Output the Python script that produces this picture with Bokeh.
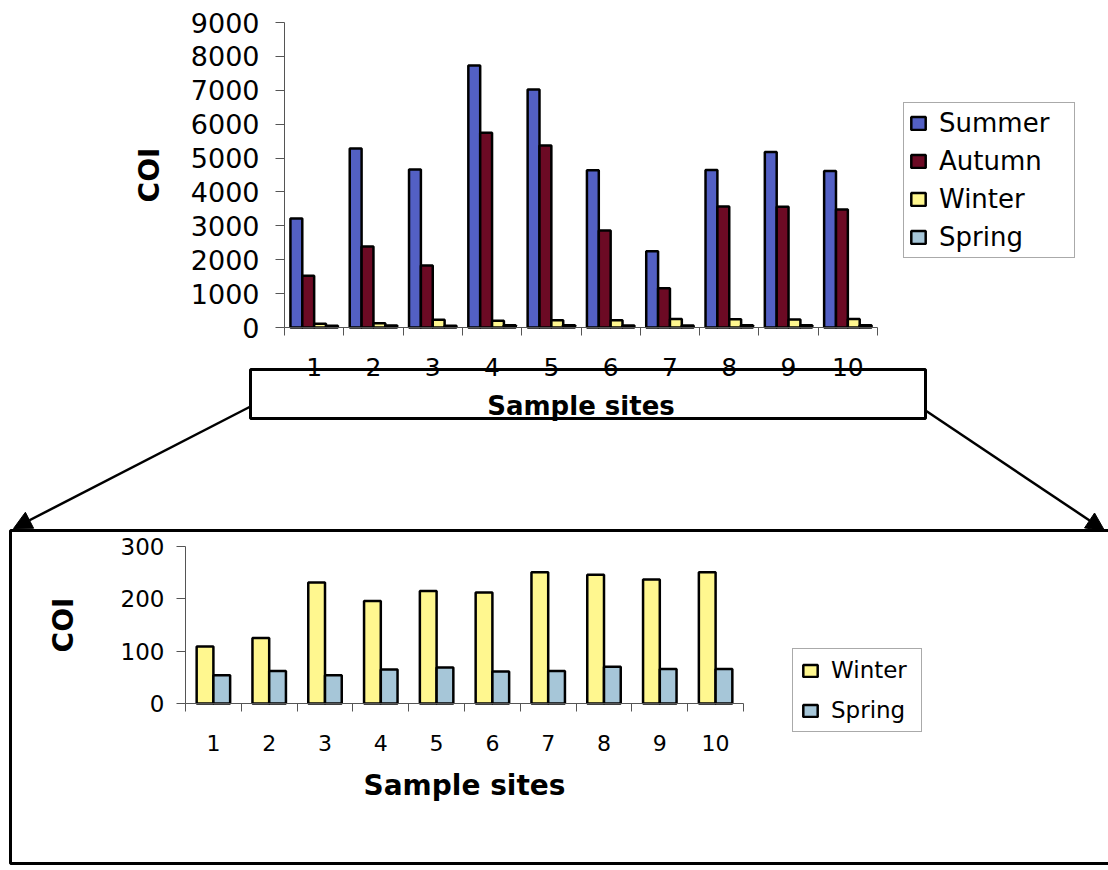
from bokeh.plotting import figure
from bokeh.models import (FixedTicker, BoxAnnotation, Arrow, NormalHead, Range1d, ColumnDataSource,
                          LinearAxis, Legend, LegendItem)
from bokeh.transform import dodge
from bokeh.embed import file_html
from bokeh.resources import INLINE

# ---------------- data ----------------
sites = [1, 2, 3, 4, 5, 6, 7, 8, 9, 10]
summer = [3220, 5280, 4660, 7730, 7020, 4640, 2250, 4650, 5180, 4620]
autumn = [1530, 2390, 1830, 5750, 5370, 2860, 1160, 3570, 3560, 3480]
winter = [109, 125, 231, 196, 215, 212, 251, 246, 237, 251]
spring = [54, 62, 54, 65, 69, 61, 62, 70, 66, 66]
top_yticks = [0, 1000, 2000, 3000, 4000, 5000, 6000, 7000, 8000, 9000]
bottom_yticks = [0, 100, 200, 300]
series_names = ["Summer", "Autumn", "Winter", "Spring"]
colors = {"Summer": "#5360c4", "Autumn": "#6c0a24", "Winter": "#fff78f", "Spring": "#a6c6d8"}

FONT = "DejaVu Sans"
W, H = 1108, 870
src = ColumnDataSource(dict(site=sites, Summer=summer, Autumn=autumn, Winter=winter, Spring=spring))


def x_range_for(v0, s0, v1, s1):
    """x range whose values v0 / v1 land on canvas pixels s0 / s1."""
    ppu = (s1 - s0) / (v1 - v0)
    return Range1d(v0 - s0 / ppu, v0 + (W - s0) / ppu)


def y_range_for(v0, s0, v1, s1):
    """y range whose values v0 / v1 land on canvas pixels s0 / s1 (pixels from the top)."""
    ppu = (s0 - s1) / (v1 - v0)
    return Range1d(v0 - (H - s0) / ppu, v0 + s0 / ppu)


# top chart: x 0.5 -> 284 px, 10.5 -> 877 px ; y 0 -> 327 px, 9000 -> 22 px
top_x = x_range_for(0.5, 284, 10.5, 877)
top_y = y_range_for(0, 327, 9000, 22)
# bottom chart: x 0.5 -> 185 px, 10.5 -> 743 px ; y 0 -> 703 px, 300 -> 546 px
bot_x = x_range_for(0.5, 185, 10.5, 743)
bot_y = y_range_for(0, 703, 300, 546)

p = figure(width=W, height=H, x_range=top_x, y_range=top_y, title=None,
           output_backend="svg", toolbar_location=None,
           x_axis_location=None, y_axis_location=None,
           min_border=0, min_border_left=0, min_border_right=0, min_border_top=0, min_border_bottom=0)
p.extra_x_ranges = {"bx": bot_x}
p.extra_y_ranges = {"by": bot_y}
p.xgrid.visible = False
p.ygrid.visible = False
p.outline_line_color = None
p.background_fill_color = "white"


def make_axes(xr, yr, xlab_size, xlab_standoff, xtitle_size, xtitle_standoff,
              ylab_size, ylab_standoff, ytitle_size, ytitle_standoff, yticks):
    xa = LinearAxis(x_range_name=xr, y_range_name=yr, fixed_location=0,
                    bounds=(sites[0] - 0.5, sites[-1] + 0.5))
    xa.ticker = FixedTicker(ticks=sites, minor_ticks=[s - 0.5 for s in sites] + [sites[-1] + 0.5])
    xa.major_tick_in = 0
    xa.major_tick_out = 0
    xa.minor_tick_in = 0
    xa.minor_tick_out = 8
    xa.minor_tick_line_color = "#555555"
    xa.axis_line_color = "#555555"
    xa.major_label_text_font = FONT
    xa.major_label_text_font_size = xlab_size
    xa.major_label_text_color = "black"
    xa.major_label_standoff = xlab_standoff
    xa.axis_label = "Sample sites"
    xa.axis_label_text_font = FONT
    xa.axis_label_text_font_style = "bold"
    xa.axis_label_text_font_size = xtitle_size
    xa.axis_label_text_color = "black"
    xa.axis_label_standoff = xtitle_standoff
    p.add_layout(xa, "below")
    ya = LinearAxis(x_range_name=xr, y_range_name=yr, fixed_location=sites[0] - 0.5,
                    bounds=(yticks[0], yticks[-1]))
    ya.ticker = FixedTicker(ticks=yticks, minor_ticks=[])
    ya.major_tick_in = 0
    ya.major_tick_out = 9
    ya.major_tick_line_color = "#555555"
    ya.minor_tick_line_color = None
    ya.axis_line_color = "#555555"
    ya.major_label_text_font = FONT
    ya.major_label_text_font_size = ylab_size
    ya.major_label_text_color = "black"
    ya.major_label_standoff = ylab_standoff
    ya.axis_label = "COI"
    ya.axis_label_text_font = FONT
    ya.axis_label_text_font_style = "bold"
    ya.axis_label_text_font_size = ytitle_size
    ya.axis_label_text_color = "black"
    ya.axis_label_standoff = ytitle_standoff
    p.add_layout(ya, "left")


def style_legend(lg, size, gh, spacing, padding, label_width):
    lg.label_text_font = FONT
    lg.label_text_font_size = size
    lg.label_text_color = "black"
    lg.glyph_width = 18
    lg.glyph_height = gh
    lg.label_standoff = 12
    lg.label_width = label_width
    lg.spacing = spacing
    lg.padding = padding
    lg.margin = 0
    lg.border_line_color = "#555555"
    lg.border_line_width = 1.5
    lg.background_fill_color = "white"


# ---------------- top chart ----------------
offs = [-0.3, -0.1, 0.1, 0.3]
items = []
for name, off in zip(series_names, offs):
    r = p.vbar(x=dodge("site", off, range=top_x), top=name, width=0.2, source=src,
               fill_color=colors[name], line_color="black", line_width=2.5)
    items.append(LegendItem(label=name, renderers=[r]))
make_axes("default", "default", "25px", 22, "26px", 12, "27px", 16, "28px", 22, top_yticks)
lg1 = Legend(items=items, location=(903, H - 258))
style_legend(lg1, "26px", 16, 8, 5, 130)
p.add_layout(lg1, "center")

# ---------------- bottom chart ----------------
items2 = []
for name, off in zip(["Winter", "Spring"], [-0.15, 0.15]):
    r = p.vbar(x=dodge("site", off, range=bot_x), top=name, width=0.3, source=src,
               x_range_name="bx", y_range_name="by",
               fill_color=colors[name], line_color="black", line_width=2.5)
    items2.append(LegendItem(label=name, renderers=[r]))
make_axes("bx", "by", "22px", 23, "28px", 15, "23px", 12, "28px", 38, bottom_yticks)
lg2 = Legend(items=items2, location=(792, H - 732))
style_legend(lg2, "23px", 15, 14, 8, 82)
p.add_layout(lg2, "center")

# ---------------- decorations (canvas pixels) ----------------
def cbox(l, r, t, b, lw):
    return BoxAnnotation(left=l, right=r, top=t, bottom=b,
                         left_units="canvas", right_units="canvas", top_units="canvas", bottom_units="canvas",
                         fill_alpha=0, line_color="black", line_width=lw, line_alpha=1, level="overlay")

p.add_layout(cbox(250, 925, 369, 418, 3))
p.add_layout(cbox(10, 1140, 530, 863, 3))
for xs, ys, xe, ye in [(250, 406, 13, 528), (925, 410, 1104, 530)]:
    p.add_layout(Arrow(x_start=xs, y_start=ys, x_end=xe, y_end=ye,
                       start_units="canvas", end_units="canvas", line_width=2.5, line_color="black",
                       end=NormalHead(size=18, fill_color="black", line_color="black")))

open("out.html", "w").write(file_html(p, INLINE))
